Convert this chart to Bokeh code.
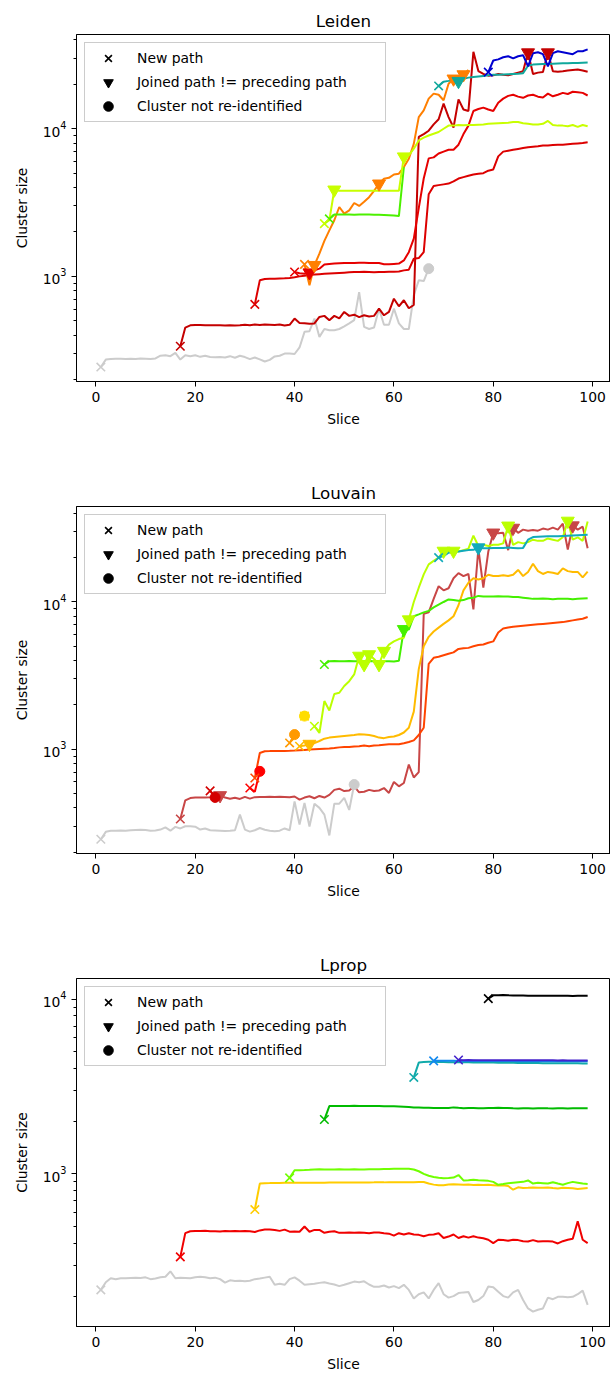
from bokeh.plotting import figure
from bokeh.layouts import column
from bokeh.models import Range1d, FixedTicker, Legend, LegendItem
from bokeh.embed import file_html
from bokeh.resources import INLINE

FONT = "DejaVu Sans"
PANEL_TITLES = ["Leiden", "Louvain", "Lprop"]
SLICE_TICKS = [0, 20, 40, 60, 80, 100]
SIZE_TICKS = [1000, 10000]
LEGEND_LABELS = ["New path", "Joined path != preceding path", "Cluster not re-identified"]

# ---------------- Leiden ----------------
LEIDEN_GRAY_START = 1
LEIDEN_GRAY = [243, 273, 276, 277, 277, 276, 277, 276, 278, 277,
               276, 278, 290, 292, 288, 303, 273, 292, 288, 292,
               285, 290, 284, 283, 284, 282, 288, 281, 290, 284,
               275, 282, 274, 265, 272, 287, 290, 300, 300, 298,
               330, 421, 425, 518, 389, 440, 432, 432, 440, 459,
               480, 505, 783, 455, 440, 450, 604, 470, 470, 604,
               480, 440, 440, 745, 940, 930, 1128]
LEIDEN_DARKRED_START = 17
LEIDEN_DARKRED = [336, 450, 466, 468,
                  468, 467, 466, 467, 466, 465, 466, 465, 466, 470,
                  466, 472, 468, 472, 470, 468, 472, 465, 470, 518,
                  484, 482, 478, 480, 531, 540, 505, 540, 520, 574,
                  540, 550, 530, 545, 535, 540, 604, 545, 575, 706,
                  627, 689, 608, 640, 8800, 9200, 9700, 10700, 11600, 14800,
                  12000, 10200, 15800, 13500, 13200, 33200, 24600, 23500, 22900, 23000,
                  23500, 23200, 23000, 23500, 24000, 24500, 32800, 23500, 24000, 24200,
                  32800, 24500, 24300, 24500, 24800, 25000, 25200, 24800, 24300]
LEIDEN_DARKRED_JOIN = [87, 91]
LEIDEN_RED2_START = 32
LEIDEN_RED2 = [646, 940, 960, 965, 965, 968, 970, 975, 985,
               1000, 1010, 1020, 1030, 1035, 1040, 1045, 1050, 1055, 1060,
               1065, 1070, 1070, 1075, 1070, 1065, 1070, 1070, 1075, 1075,
               1080, 1098, 1110, 1316, 1330, 1460, 3600, 4100, 4150, 4200,
               4250, 4400, 4600, 4700, 4800, 4900, 4950, 5000, 5200, 5300,
               6500, 7000, 7100, 7200, 7300, 7400, 7500, 7550, 7600, 7700,
               7700, 7750, 7800, 7800, 7850, 7900, 7950, 8000, 8100]
LEIDEN_RED1_START = 40
LEIDEN_RED1 = [1070,
               1050, 1042, 1060, 1100, 1128, 1205, 1215, 1220, 1225, 1230,
               1230, 1232, 1235, 1235, 1230, 1232, 1230, 1210, 1210, 1215,
               1220, 1283, 1459, 1800, 2900, 4600, 6300, 6400, 6800, 7000,
               7200, 7200, 7800, 9200, 10500, 13200, 13600, 13900, 13500, 13200,
               15000, 16000, 16700, 17000, 16500, 16200, 16800, 17000, 16500, 16300,
               17300, 16600, 17000, 17500, 17200, 17800, 17700, 17500, 16800]
LEIDEN_RED1_JOIN = [43]
LEIDEN_ORANGE_START = 42
LEIDEN_ORANGE = [1205, 870, 1190, 1424, 1740, 2050, 2400, 2950, 2660,
                 2800, 3140, 3000, 3200, 3440, 3800, 4240, 4580, 4650, 4900,
                 4960, 5500, 6260, 7900, 12000, 13300, 16000, 17300, 17000, 15600,
                 20200, 21800, 22600, 23300, 25000]
LEIDEN_ORANGE_JOIN = [44, 57, 72, 74]
LEIDEN_YGREEN_START = 46
LEIDEN_YGREEN = [2275, 2400, 3860, 3800, 3800,
                 3800, 3800, 3800, 3800, 3800, 3800, 3800, 3800, 3800, 3800,
                 3800, 6470, 6600, 7330, 8330, 8700, 9000, 9250, 9500, 10000,
                 10500, 10500, 10600, 10550, 10600, 10600, 10650, 10700, 10800, 10850,
                 10900, 10950, 11000, 11100, 11100, 10900, 10800, 10700, 10700, 10800,
                 11300, 10600, 10500, 10500, 10400, 10600, 10300, 10600, 10400]
LEIDEN_YGREEN_JOIN = [48, 62]
LEIDEN_GREEN_START = 47
LEIDEN_GREEN = [2450, 2620, 2630, 2625,
                2620, 2615, 2620, 2625, 2620, 2615, 2610, 2600, 2590, 2580,
                2560, 5500]
LEIDEN_TEAL_START = 69
LEIDEN_TEAL = [19500, 20800,
               21100, 21500, 21000, 21800, 22200, 22400, 22600, 22800, 23000, 23200,
               23200, 23300, 23400, 23500, 23600, 23800, 26700, 27200, 27400, 27500,
               27500, 27600, 27700, 27800, 27800, 27900, 27900, 28000, 28100]
LEIDEN_TEAL_JOIN = [73]
LEIDEN_BLUE_START = 79
LEIDEN_BLUE = [24200, 29000,
               29500, 30500, 31000, 30000, 31000, 31500, 26500, 32500, 33000, 32000,
               26500, 32500, 33500, 33000, 32500, 32000, 33500, 33500, 34500]

# ---------------- Louvain ----------------
LOUVAIN_GRAY_START = 1
LOUVAIN_GRAY = [245, 275, 280, 280, 281, 280, 282, 283, 284, 283,
                280, 281, 285, 295, 280, 297, 290, 300, 300, 298,
                285, 290, 282, 281, 280, 279, 280, 282, 360, 285,
                276, 282, 292, 284, 280, 278, 280, 290, 282, 443,
                308, 432, 299, 427, 400, 360, 260, 427, 427, 467,
                387, 576]
LOUVAIN_DARKRED_START = 17
LOUVAIN_DARKRED = [336, 450, 466, 470,
                   471, 470, 472, 475, 486, 470, 462, 468, 460, 475,
                   462, 473, 474, 475, 476, 474, 476, 474, 472, 478,
                   455, 470, 480, 465, 482, 470, 490, 530, 540, 520,
                   525, 560, 510, 515, 530, 520, 525, 545, 505, 600,
                   560, 590, 787, 643, 700, 8300, 8500, 10500, 12800, 12000,
                   12400, 14500, 15700, 15000, 15500, 8900, 23000, 12500, 22000, 29500,
                   29300, 29500, 22500, 31800, 29500, 31000, 30500, 30800, 30500, 31500,
                   31000, 32000, 31000, 34000, 22700, 33000, 31000, 32500, 23200]
LOUVAIN_DARKRED_JOIN = [25, 80, 84, 96]
LOUVAIN_REDA_START = 23
LOUVAIN_REDA = [522, 471]
LOUVAIN_REDB_START = 31
LOUVAIN_REDB = [546, 515, 708]
LOUVAIN_ORANGERED_START = 32
LOUVAIN_ORANGERED = [638, 944, 970, 972, 975, 975, 975, 976, 980,
                     985, 990, 995, 1000, 1005, 1010, 1012, 1020, 1030, 1035,
                     1035, 1045, 1050, 1060, 1050, 1060, 1065, 1075, 1080, 1081,
                     1083, 1100, 1120, 1150, 1250, 1400, 3800, 4180, 4250, 4350,
                     4450, 4550, 4800, 4850, 4880, 5000, 5100, 5150, 5290, 5400,
                     6200, 6600, 6700, 6800, 6850, 6900, 6950, 7000, 7050, 7100,
                     7150, 7200, 7250, 7300, 7400, 7500, 7600, 7700, 7900]
LOUVAIN_ORANGE_START = 39
LOUVAIN_ORANGE = [1104, 1258]
LOUVAIN_GOLD_START = 42
LOUVAIN_GOLD = [1680]
LOUVAIN_YELLOW_START = 41
LOUVAIN_YELLOW = [1048, 1060, 1085, 1100, 1138, 1180, 1200, 1210, 1220, 1230,
                  1240, 1250, 1264, 1260, 1250, 1230, 1200, 1190, 1210, 1220,
                  1250, 1300, 1400, 1800, 3500, 5000, 5800, 6300, 6700, 7100,
                  7500, 8000, 9500, 12000, 13500, 14500, 14200, 14500, 15300, 15000,
                  15000, 15200, 15000, 15300, 16500, 15000, 16000, 18200, 16200, 15500,
                  16000, 15800, 15500, 16900, 16200, 16000, 16000, 14700, 16100]
LOUVAIN_YELLOW_JOIN = [43]
LOUVAIN_YGREEN_START = 44
LOUVAIN_YGREEN = [1433, 1290, 2125, 1833, 2376, 2420, 2690,
                  2900, 3220, 4300, 3770, 4400, 4100, 3770, 4640, 5130, 5400,
                  5600, 5720, 7590, 10000, 12500, 15400, 18000, 19000, 20000, 22200,
                  22200, 22200, 22000, 22500, 23000, 28200, 24000, 24500, 24000, 24500,
                  24500, 25000, 32900, 24400, 25500, 25000, 25500, 26500, 26000, 26000,
                  27000, 26500, 26000, 27500, 35500, 26500, 27500, 26000, 35200]
LOUVAIN_YGREEN_JOIN = [53, 54, 55, 57, 58, 63, 70, 72, 83, 95]
LOUVAIN_GREEN_START = 46
LOUVAIN_GREEN = [3765, 3965, 3970, 3960, 3965,
                 3970, 3965, 3960, 3965, 3970, 3965, 3960, 3965, 3960, 3950,
                 3990, 6520, 6500, 8000, 8240, 8500, 8700, 9200, 9600, 10000,
                 10400, 10300, 10200, 10300, 10600, 10700, 11000, 10900, 10900, 10900,
                 10950, 10900, 10900, 10800, 10800, 10700, 10600, 10500, 10500, 10550,
                 10500, 10450, 10500, 10500, 10500, 10450, 10500, 10550, 10600]
LOUVAIN_GREEN_JOIN = [62]
LOUVAIN_TEAL_START = 69
LOUVAIN_TEAL = [20000, 20500,
                21600, 22000, 22000, 22300, 22500, 22600, 23400, 23200, 23200, 23300,
                23300, 23300, 23400, 23300, 23200, 23300, 26500, 27600, 27700, 27800,
                27900, 28000, 28000, 28100, 28200, 28300, 28400, 28500, 28600]
LOUVAIN_TEAL_JOIN = [77]

# ---------------- Lprop ----------------
LPROP_GRAY_START = 1
LPROP_GRAY = [217, 240, 253, 250, 253, 253, 254, 255, 254, 256,
              250, 252, 256, 258, 277, 253, 255, 254, 253, 256,
              258, 256, 253, 255, 250, 239, 246, 244, 245, 243,
              245, 250, 252, 255, 258, 232, 235, 232, 250, 256,
              245, 232, 234, 235, 238, 240, 236, 233, 228, 232,
              237, 242, 240, 243, 233, 226, 226, 230, 224, 228,
              222, 232, 217, 194, 205, 210, 194, 217, 237, 205,
              196, 200, 208, 210, 211, 185, 190, 200, 227, 225,
              212, 200, 196, 210, 217, 190, 170, 163, 167, 170,
              196, 192, 198, 198, 197, 198, 205, 215, 178]
LPROP_RED_START = 17
LPROP_RED = [335, 458, 470, 472,
             471, 473, 470, 470, 468, 471, 470, 472, 470, 471,
             470, 465, 475, 480, 480, 478, 472, 480, 467, 468,
             467, 500, 467, 478, 478, 460, 467, 470, 460, 460,
             462, 460, 462, 460, 458, 462, 462, 458, 455, 443,
             458, 450, 458, 450, 448, 440, 448, 450, 458, 430,
             438, 450, 430, 440, 432, 440, 432, 428, 420, 402,
             420, 418, 415, 420, 418, 412, 410, 418, 410, 412,
             412, 410, 400, 412, 420, 425, 536, 420, 402]
LPROP_YELLOW_START = 32
LPROP_YELLOW = [625, 880, 885, 886, 888, 888, 889, 889, 890,
                890, 890, 890, 891, 891, 891, 892, 892, 892, 892,
                892, 893, 893, 893, 893, 894, 894, 894, 895, 895,
                895, 895, 896, 896, 897, 898, 880, 868, 860, 862,
                868, 872, 870, 866, 868, 864, 866, 864, 866, 862,
                858, 860, 852, 812, 838, 830, 832, 836, 832, 834,
                836, 830, 826, 832, 830, 828, 820, 826, 830]
LPROP_LIME_START = 39
LPROP_LIME = [948, 1048,
              1050, 1052, 1055, 1060, 1062, 1060, 1058, 1060, 1062, 1060,
              1060, 1062, 1060, 1060, 1062, 1064, 1064, 1065, 1066, 1068,
              1070, 1070, 1070, 1060, 1035, 1000, 975, 960, 950, 945,
              948, 952, 985, 917, 920, 925, 918, 915, 912, 900,
              866, 875, 885, 890, 895, 900, 917, 880, 890, 885,
              880, 895, 880, 866, 885, 900, 890, 880, 875]
LPROP_GREEN_START = 46
LPROP_GREEN = [2045, 2443, 2445, 2448, 2446,
               2447, 2450, 2448, 2446, 2445, 2447, 2444, 2440, 2438, 2435,
               2430, 2420, 2410, 2400, 2395, 2390, 2385, 2380, 2380, 2382,
               2378, 2400, 2385, 2375, 2380, 2378, 2376, 2375, 2378, 2380,
               2385, 2380, 2378, 2370, 2368, 2372, 2370, 2368, 2372, 2375,
               2370, 2368, 2372, 2370, 2368, 2370, 2372, 2370, 2372]
LPROP_TEAL_START = 64
LPROP_TEAL = [3560, 4330, 4360, 4380, 4370, 4360, 4360,
              4355, 4350, 4350, 4345, 4345, 4340, 4340, 4335, 4330, 4330,
              4325, 4320, 4320, 4315, 4310, 4310, 4305, 4300, 4300, 4295,
              4295, 4290, 4290, 4290, 4285, 4285, 4285, 4280, 4280]
LPROP_BLUE_START = 68
LPROP_BLUE = [4430, 4440, 4430,
              4435, 4430, 4425, 4430, 4425, 4430, 4420, 4425, 4420, 4420,
              4420, 4415, 4420, 4415, 4410, 4415, 4410, 4410, 4415, 4410,
              4405, 4410, 4405, 4400, 4405, 4400, 4400, 4405, 4400]
LPROP_PURPLE_START = 73
LPROP_PURPLE = [4480, 4470, 4475, 4470, 4465, 4470, 4468, 4465,
                4470, 4465, 4468, 4462, 4465, 4460, 4465, 4462, 4460, 4458,
                4460, 4458, 4455, 4458, 4455, 4452, 4455, 4450, 4452]
LPROP_BLACK_START = 79
LPROP_BLACK = [10050, 10500,
               10520, 10530, 10500, 10480, 10470, 10460, 10450, 10440, 10430, 10440,
               10450, 10440, 10430, 10440, 10430, 10420, 10430, 10440, 10450]

# (start, values, colour, joined-path slices, ends with "not re-identified")
PANELS = [
    dict(title="Leiden", yr=(194, 43500), height=472, bottom=91, series=[
        (LEIDEN_GRAY_START, LEIDEN_GRAY, "#cccccc", [], True),
        (LEIDEN_DARKRED_START, LEIDEN_DARKRED, "#c40000", LEIDEN_DARKRED_JOIN, False),
        (LEIDEN_RED2_START, LEIDEN_RED2, "#dc0000", [], False),
        (LEIDEN_RED1_START, LEIDEN_RED1, "#e60000", LEIDEN_RED1_JOIN, False),
        (LEIDEN_ORANGE_START, LEIDEN_ORANGE, "#ff7f00", LEIDEN_ORANGE_JOIN, False),
        (LEIDEN_GREEN_START, LEIDEN_GREEN, "#4cf000", [], False),
        (LEIDEN_YGREEN_START, LEIDEN_YGREEN, "#c8ff00", LEIDEN_YGREEN_JOIN, False),
        (LEIDEN_TEAL_START, LEIDEN_TEAL, "#10a89c", LEIDEN_TEAL_JOIN, False),
        (LEIDEN_BLUE_START, LEIDEN_BLUE, "#0000d0", [], False),
    ]),
    dict(title="Louvain", yr=(196, 44500), height=472, bottom=91, series=[
        (LOUVAIN_GRAY_START, LOUVAIN_GRAY, "#cccccc", [], True),
        (LOUVAIN_DARKRED_START, LOUVAIN_DARKRED, "#c84646", LOUVAIN_DARKRED_JOIN, False),
        (LOUVAIN_REDA_START, LOUVAIN_REDA, "#d40000", [], True),
        (LOUVAIN_REDB_START, LOUVAIN_REDB, "#ff0000", [], True),
        (LOUVAIN_ORANGERED_START, LOUVAIN_ORANGERED, "#ff4400", [], False),
        (LOUVAIN_ORANGE_START, LOUVAIN_ORANGE, "#ff9900", [], True),
        (LOUVAIN_GOLD_START, LOUVAIN_GOLD, "#ffdd00", [], True),
        (LOUVAIN_YELLOW_START, LOUVAIN_YELLOW, "#ffbb00", LOUVAIN_YELLOW_JOIN, False),
        (LOUVAIN_GREEN_START, LOUVAIN_GREEN, "#44f000", LOUVAIN_GREEN_JOIN, False),
        (LOUVAIN_YGREEN_START, LOUVAIN_YGREEN, "#bbff00", LOUVAIN_YGREEN_JOIN, False),
        (LOUVAIN_TEAL_START, LOUVAIN_TEAL, "#11aabb", LOUVAIN_TEAL_JOIN, False),
    ]),
    dict(title="Lprop", yr=(134, 13100), height=432, bottom=50, series=[
        (LPROP_GRAY_START, LPROP_GRAY, "#cccccc", [], False),
        (LPROP_RED_START, LPROP_RED, "#f00000", [], False),
        (LPROP_YELLOW_START, LPROP_YELLOW, "#ffcc00", [], False),
        (LPROP_LIME_START, LPROP_LIME, "#70ff00", [], False),
        (LPROP_GREEN_START, LPROP_GREEN, "#00bb00", [], False),
        (LPROP_TEAL_START, LPROP_TEAL, "#11aaaa", [], False),
        (LPROP_BLUE_START, LPROP_BLUE, "#1188ee", [], False),
        (LPROP_PURPLE_START, LPROP_PURPLE, "#4422cc", [], False),
        (LPROP_BLACK_START, LPROP_BLACK, "#000000", [], False),
    ]),
]

MINOR = [m * 10 ** k for k in (1, 2, 3, 4) for m in range(2, 10)]
NAN = float("nan")


def make_panel(cfg):
    p = figure(width=610, height=cfg["height"], y_axis_type="log",
               x_range=Range1d(-3.9, 103.6), y_range=Range1d(*cfg["yr"]),
               output_backend="svg", toolbar_location=None,
               min_border_left=76, min_border_right=0, min_border_top=34,
               min_border_bottom=cfg["bottom"])
    p.title.text = cfg["title"]
    p.title.align = "center"
    p.title.text_font = FONT
    p.title.text_font_size = "16.7px"
    p.title.text_font_style = "normal"
    p.title.text_color = "black"
    p.title.standoff = 8
    p.xgrid.visible = False
    p.ygrid.visible = False
    p.outline_line_color = "black"
    p.outline_line_alpha = 1
    p.outline_line_width = 1
    p.xaxis.ticker = FixedTicker(ticks=SLICE_TICKS)
    p.yaxis.ticker = FixedTicker(ticks=SIZE_TICKS, minor_ticks=MINOR)
    p.xaxis.axis_label = "Slice"
    p.yaxis.axis_label = "Cluster size"
    for ax in (p.xaxis, p.yaxis):
        ax.axis_label_text_font = FONT
        ax.axis_label_text_font_size = "13.9px"
        ax.axis_label_text_font_style = "normal"
        ax.axis_label_text_color = "black"
        ax.major_label_text_font = FONT
        ax.major_label_text_font_size = "13.9px"
        ax.major_label_text_color = "black"
        ax.axis_line_color = "black"
        ax.major_tick_line_color = "black"
        ax.major_tick_out = 5
        ax.major_tick_in = 0
        ax.minor_tick_out = 3
        ax.minor_tick_in = 0
        ax.major_label_standoff = 5
    p.xaxis.axis_label_standoff = 6
    p.yaxis.axis_label_standoff = 10
    p.xaxis.minor_tick_line_color = None
    p.yaxis.minor_tick_line_color = "black"

    series = cfg["series"]
    for start, vals, col, tri, circ in series:
        xs = list(range(start, start + len(vals)))
        p.line(xs, vals, line_color=col, line_width=2)
    for start, vals, col, tri, circ in series:
        p.scatter([start], [vals[0]], marker="x", size=12, line_color=col, line_width=1.6)
        if tri:
            p.scatter(tri, [vals[s - start] for s in tri], marker="inverted_triangle",
                      size=13, fill_color=col, line_color=col)
        if circ:
            p.scatter([start + len(vals) - 1], [vals[-1]], marker="circle", size=10,
                      fill_color=col, line_color=col)

    # legend-only renderers (NaN data, nothing drawn in the frame)
    r_x = p.scatter([NAN], [NAN], marker="x", size=12, line_color="black", line_width=1.6)
    r_t = p.scatter([NAN], [NAN], marker="inverted_triangle", size=12,
                    fill_color="black", line_color="black")
    r_c = p.scatter([NAN], [NAN], marker="circle", size=12,
                    fill_color="black", line_color="black")
    legend = Legend(items=[LegendItem(label=LEGEND_LABELS[0], renderers=[r_x]),
                           LegendItem(label=LEGEND_LABELS[1], renderers=[r_t]),
                           LegendItem(label=LEGEND_LABELS[2], renderers=[r_c])],
                    location="top_left", margin=8, padding=3, spacing=0,
                    glyph_height=24, glyph_width=40, label_standoff=9,
                    label_width=245, label_height=20,
                    label_text_font=FONT, label_text_font_size="13.9px",
                    label_text_color="black",
                    border_line_color="#cccccc", border_line_alpha=1,
                    background_fill_alpha=0.8)
    p.add_layout(legend)
    return p


plots = [make_panel(c) for c in PANELS]
layout = column(*plots, spacing=0)
open("out.html", "w").write(file_html(layout, INLINE))
